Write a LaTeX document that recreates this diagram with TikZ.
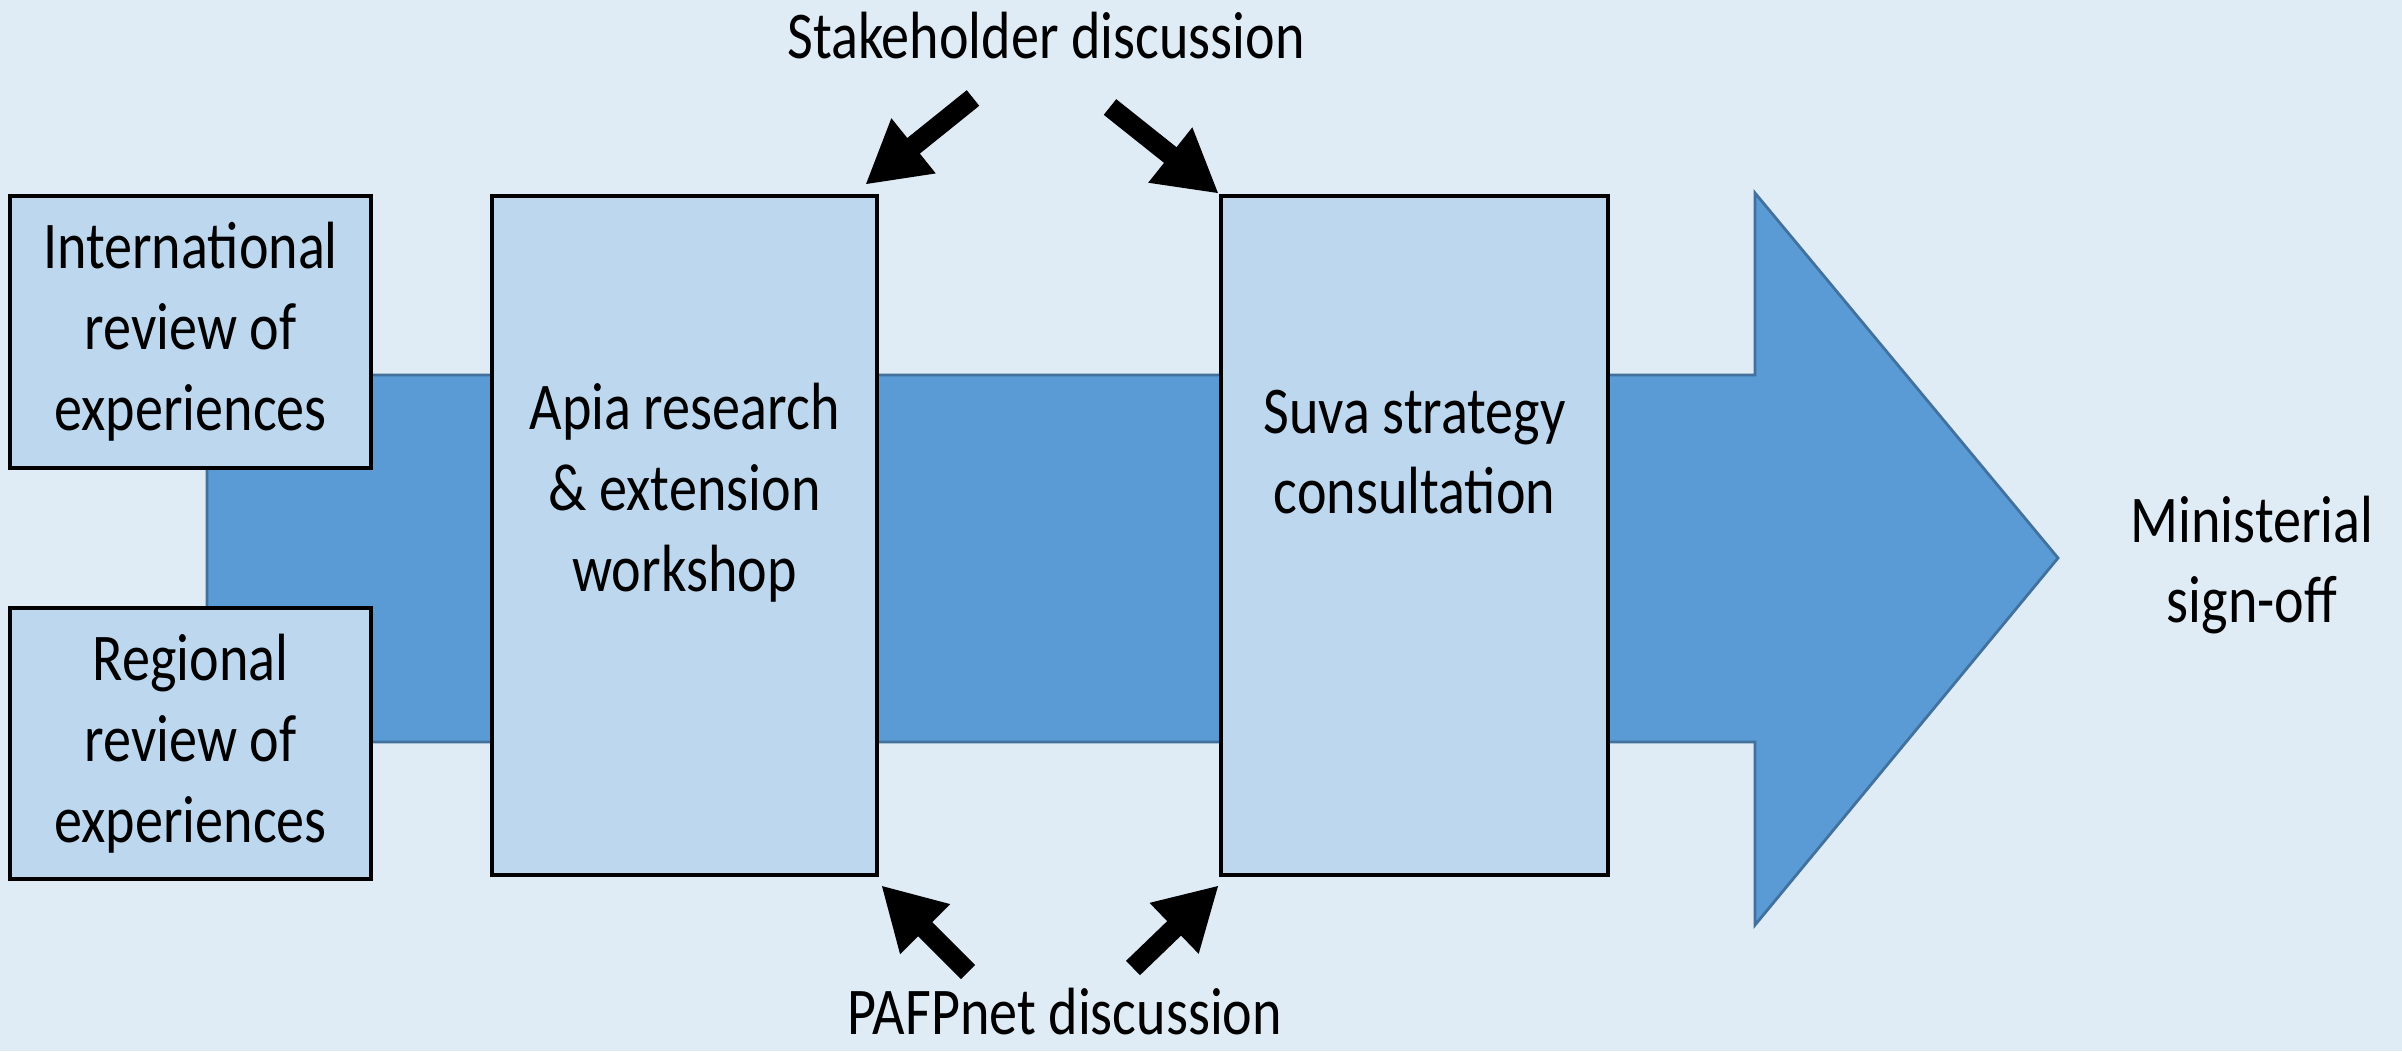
\documentclass[tikz,border=0pt]{standalone}
\usepackage{fontspec}
\setmainfont{Carlito}[FakeStretch=0.84]
\usetikzlibrary{arrows.meta}

\definecolor{slidebg}{HTML}{E0ECF5}
\definecolor{boxfill}{HTML}{BDD7EE}
\definecolor{flowfill}{HTML}{5B9BD5}
\definecolor{flowedge}{HTML}{41719C}

\begin{document}
\begin{tikzpicture}[
    x=0.01cm, y=-0.01cm,
    stage/.style={draw=black, line width=1.2pt, fill=boxfill, inner sep=0pt},
    stage text/.style={align=center, font=\fontsize{19pt}{23pt}\selectfont},
    feedback/.style={line width=0.2cm, -{Triangle[length=0.62cm, width=0.66cm]}}
]
    % slide background
    \fill[slidebg] (0,0) rectangle (2402,1051);
    \useasboundingbox (0,0) rectangle (2402,1051);

    % main flow arrow
    \draw[flowedge, fill=flowfill, line width=0.8pt]
        (207,375) -- (1755,375) -- (1755,193) -- (2058,558)
        -- (1755,925) -- (1755,742) -- (207,742) -- cycle;

    % inputs on the left
    \node[stage, minimum width=3.61cm, minimum height=2.72cm] (intl) at (190.5,332) {};
    \node[stage text] at (intl.center) {International\\review of\\experiences};
    \node[stage, minimum width=3.61cm, minimum height=2.71cm] (regional) at (190.5,743.5) {};
    \node[stage text] at (regional.center) {Regional\\review of\\experiences};

    % workshop and consultation
    \node[stage, minimum width=3.85cm, minimum height=6.79cm] (apia) at (684.5,535.5) {};
    \node[stage text] at (684.5,493) {Apia research\\\& extension\\workshop};
    \node[stage, minimum width=3.87cm, minimum height=6.79cm] (suva) at (1414.5,535.5) {};
    \node[stage text] at (1414.5,452) {Suva strategy\\consultation};

    % end point
    \node[stage text] (signoff) at (2252,565) {Ministerial\\sign-off};

    % discussions feeding in
    \node[stage text] (stake) at (1046,36) {Stakeholder discussion};
    \node[stage text] (pafp) at (1065,1012) {PAFPnet discussion};

    \coordinate (stake-l) at (973,98);
    \coordinate (stake-r) at (1110,107);
    \coordinate (pafp-l) at (968,972);
    \coordinate (pafp-r) at (1133,968);

    \draw[feedback] (stake-l) -- ([shift={(-14,-9)}]apia.north east);
    \draw[feedback] (stake-r) -- (suva.north west);
    \draw[feedback] (pafp-l) -- ([shift={(2,8)}]apia.south east);
    \draw[feedback] (pafp-r) -- ([shift={(0,8)}]suva.south west);
\end{tikzpicture}
\end{document}
